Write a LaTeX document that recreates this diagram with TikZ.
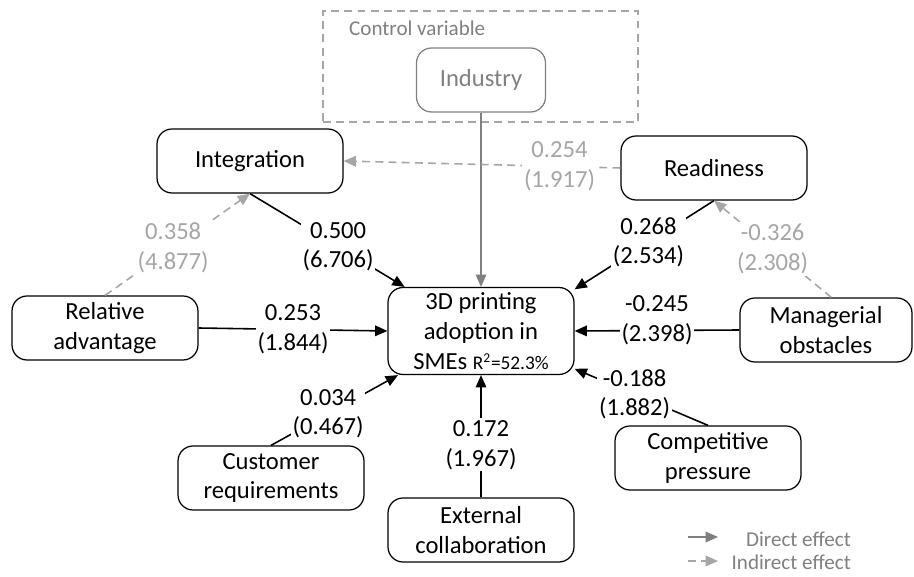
\documentclass[tikz,border=0pt]{standalone}
\usepackage{fontspec}
\setmainfont{Carlito}
\usetikzlibrary{arrows.meta, positioning}

\definecolor{midgrey}{HTML}{808080}
\definecolor{lightgrey}{HTML}{A6A6A6}

\begin{document}
\begin{tikzpicture}[x=0.02cm, y=-0.02cm,
        box style/.style={draw, rounded corners=0.3cm, line width=0.7pt,
            minimum width=3.72cm, minimum height=1.28cm, align=center,
            font=\fontsize{14}{17}\selectfont},
        coef style/.style={fill=white, inner sep=1pt, align=center,
            font=\fontsize{14}{17}\selectfont},
        flow/.style={-{Triangle[length=7pt, width=6pt]}, line width=0.9pt},
        indirect/.style={flow, lightgrey, dash pattern=on 4.5pt off 3pt},
    ]
        \useasboundingbox (0,0) rectangle (914,577);

        % Control variable
        \node[draw=lightgrey, dash pattern=on 4.5pt off 3pt, line width=0.7pt,
            minimum width=6.3cm, minimum height=2.22cm] (control) at (480.5,66.5) {};
        \node[anchor=west, text=midgrey, font=\fontsize{12}{14}\selectfont] (ctrltext) at (343,28) {Control variable};
        \node[box style, draw=midgrey, text=midgrey, minimum width=2.58cm] (industry) at (481,80) {Industry};

        % Factor nodes
        \node[box style] (integration) at (250,161) {Integration};
        \node[box style] (readiness) at (714,168) {Readiness};
        \node[box style] (relative) at (105,328) {Relative\\advantage};
        \node[box style, minimum width=3.44cm] (managerial) at (826,330) {Managerial\\obstacles};
        \node[box style] (customer) at (271,478) {Customer\\requirements};
        \node[box style] (external) at (481,530) {External\\collaboration};
        \node[box style] (competitive) at (708,458) {Competitive\\pressure};

        % Outcome
        \node[box style, minimum height=1.74cm, inner sep=1pt] (adoption) at (481,331)
            {3D printing\\adoption in\\SMEs {\fontsize{11}{13}\selectfont R\textsuperscript{2}=52.3\%}};

        % Direct effects
        \draw[flow, midgrey] (industry) -- (adoption);
        \draw[flow] (integration.south) -- node[coef style, pos=0.57] {0.500\\(6.706)} (adoption.150);
        \draw[flow] (readiness.south) -- node[coef style, pos=0.47] {0.268\\(2.534)} (adoption.24);
        \draw[flow] (managerial.west) -- node[coef style, yshift=6pt] {-0.245\\(2.398)} (adoption.east);
        \draw[flow] (relative.east) -- node[coef style] {0.253\\(1.844)} (adoption.west);
        \draw[flow] (customer.north) -- node[coef style, pos=0.45] {0.034\\(0.467)} (adoption.208);
        \draw[flow] (external.north) -- node[coef style, pos=0.43] {0.172\\(1.967)} (adoption.south);
        \draw[flow] (competitive.north) -- node[coef style, pos=0.55] {-0.188\\(1.882)} (adoption.338);

        % Indirect effects
        \draw[indirect] (readiness.west) -- node[coef style, text=lightgrey, pos=0.22] {0.254\\(1.917)} (integration.east);
        \draw[indirect] (relative.north) -- node[coef style, text=lightgrey, pos=0.47] {0.358\\(4.877)} (integration.south);
        \draw[indirect] ([xshift=3pt]managerial.north) -- node[coef style, text=lightgrey, pos=0.5] {-0.326\\(2.308)} (readiness.south);

        % Legend
        \coordinate (direct start) at (688,537);
        \coordinate (direct end) at (718,537);
        \coordinate (indirect start) at (688,561);
        \coordinate (indirect end) at (718,561);
        \draw[flow, midgrey] (direct start) -- (direct end);
        \draw[indirect] (indirect start) -- (indirect end);
        \node[anchor=east, text=midgrey, font=\fontsize{12}{14}\selectfont] (directlabel) at (857,539) {Direct effect};
        \node[anchor=east, text=midgrey, font=\fontsize{12}{14}\selectfont] (indirectlabel) at (857,562) {Indirect effect};
    \end{tikzpicture}
\end{document}
